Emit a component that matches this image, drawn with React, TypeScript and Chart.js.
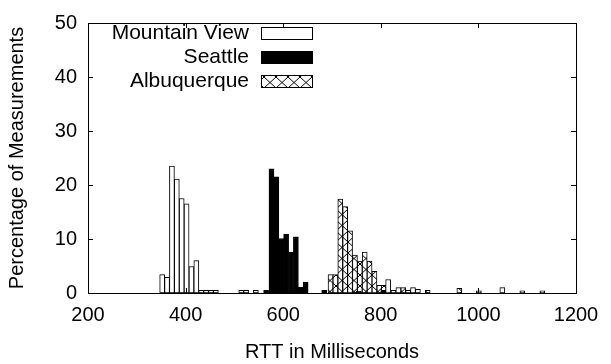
import React, { useEffect, useRef } from "react";
import { Chart, registerables } from "chart.js";

Chart.register(...registerables);

// ---- data (RTT bin centre in ms, percentage of measurements) ----
const mountainViewRtt = [352, 362, 372, 382, 392, 402, 412, 422, 432, 442, 452, 462, 514, 524, 544, 815, 836, 866, 1001, 1049, 1090];
const mountainViewPct = [3.4, 2.9, 23.5, 21.1, 17.5, 16.5, 4.9, 6.0, 0.5, 0.5, 0.5, 0.5, 0.5, 0.5, 0.5, 2.5, 1.0, 1.0, 0.4, 1.0, 0.4];

const seattleRtt = [565, 576, 586, 596, 606, 616, 626, 636, 646, 684, 755, 805];
const seattlePct = [0.5, 23.0, 21.5, 10.1, 10.9, 7.6, 10.4, 1.1, 2.0, 0.5, 0.3, 0.5];

const albuquerqueRtt = [697, 707, 717, 727, 737, 747, 757, 767, 777, 787, 797, 806, 826, 846, 856, 876, 896, 961, 1131];
const albuquerquePct = [3.4, 3.4, 17.4, 16.0, 11.5, 7.0, 5.9, 7.6, 5.9, 4.0, 1.4, 1.4, 0.5, 1.0, 0.5, 0.7, 0.5, 0.85, 0.4];

const seriesLabels = ["Mountain View", "Seattle", "Albuquerque"];
const xTitle = "RTT in Milliseconds";
const yTitle = "Percentage of Measurements";
const xMin = 200, xMax = 1200, xStep = 200;
const yMin = 0, yMax = 50, yStep = 10;

const FONT = "'Liberation Sans', Arial, Helvetica, sans-serif";

function toPoints(xs: number[], ys: number[]) {
  return xs.map((x, i) => ({ x, y: ys[i] }));
}

function makeHatch(): CanvasPattern | string {
  const c = document.createElement("canvas");
  c.width = 12;
  c.height = 11;
  const g = c.getContext("2d");
  if (!g) return "#fff";
  g.fillStyle = "#fff";
  g.fillRect(0, 0, 12, 11);
  g.strokeStyle = "#000";
  g.lineWidth = 1;
  g.beginPath();
  g.moveTo(0, 0);
  g.lineTo(12, 11);
  g.moveTo(0, 11);
  g.lineTo(12, 0);
  g.stroke();
  return g.createPattern(c, "repeat") || "#fff";
}

const framePlugin = {
  id: "gnuframe",
  afterDraw(chart: any) {
    const { ctx, chartArea: a, scales } = chart;
    ctx.save();
    ctx.strokeStyle = "#000";
    ctx.lineWidth = 1;
    ctx.strokeRect(a.left + 0.5, a.top + 0.5, a.right - a.left, a.bottom - a.top);
    const tl = 5;
    ctx.beginPath();
    scales.x.ticks.forEach((t: any) => {
      const px = Math.round(scales.x.getPixelForValue(t.value)) + 0.5;
      ctx.moveTo(px, a.bottom);
      ctx.lineTo(px, a.bottom - tl);
      ctx.moveTo(px, a.top);
      ctx.lineTo(px, a.top + tl);
    });
    scales.y.ticks.forEach((t: any) => {
      const py = Math.round(scales.y.getPixelForValue(t.value)) + 0.5;
      ctx.moveTo(a.left, py);
      ctx.lineTo(a.left + tl, py);
      ctx.moveTo(a.right, py);
      ctx.lineTo(a.right - tl, py);
    });
    ctx.stroke();

    // legend (text right-aligned, sample box to its right)
    const textRight = 249;
    const boxLeft = 261;
    const boxW = 51;
    const boxH = 12;
    const firstCenter = 33;
    const rowH = 24;
    ctx.font = `21px ${FONT}`;
    ctx.textAlign = "right";
    ctx.textBaseline = "alphabetic";
    chart.data.datasets.forEach((ds: any, i: number) => {
      const cy = firstCenter + rowH * i;
      ctx.fillStyle = "#000";
      ctx.fillText(ds.label, textRight, cy + 6);
      const top = Math.round(cy - boxH / 2);
      ctx.fillStyle = ds.backgroundColor;
      ctx.fillRect(boxLeft, top, boxW, boxH);
      ctx.strokeRect(boxLeft + 0.5, top + 0.5, boxW, boxH);
    });
    ctx.restore();
  },
};

export default function App() {
  const ref = useRef<HTMLCanvasElement>(null);

  useEffect(() => {
    const canvas = ref.current;
    if (!canvas) return;
    const hatch = makeHatch();
    const common = {
      borderColor: "#000",
      borderWidth: 1,
      borderSkipped: false,
      barThickness: 5,
      grouped: false,
    };
    const chart = new Chart(canvas, {
      type: "bar",
      data: {
        datasets: [
          { label: seriesLabels[0], data: toPoints(mountainViewRtt, mountainViewPct), backgroundColor: "#fff", ...common },
          { label: seriesLabels[1], data: toPoints(seattleRtt, seattlePct), backgroundColor: "#000", ...common },
          { label: seriesLabels[2], data: toPoints(albuquerqueRtt, albuquerquePct), backgroundColor: hatch, ...common },
        ] as any,
      },
      options: {
        animation: false,
        responsive: false,
        events: [],
        layout: { padding: { top: 15, right: 35, bottom: 0, left: 0 } },
        plugins: { legend: { display: false }, tooltip: { enabled: false } },
        font: { family: FONT },
        scales: {
          x: {
            type: "linear",
            min: xMin,
            max: xMax,
            offset: false,
            grid: { display: false, drawTicks: false, offset: false },
            border: { display: false },
            ticks: {
              stepSize: xStep,
              padding: 10,
              color: "#000",
              font: { family: FONT, size: 20 },
              maxRotation: 0,
              callback: (v: any) => String(v),
            },
            title: { display: true, text: xTitle, color: "#000", font: { family: FONT, size: 20 }, padding: { top: 0, bottom: 0 } },
            afterFit: (s: any) => { s.height = 71; },
          },
          y: {
            type: "linear",
            min: yMin,
            max: yMax,
            grid: { display: false, drawTicks: false },
            border: { display: false },
            ticks: { stepSize: yStep, padding: 11, color: "#000", font: { family: FONT, size: 20 }, callback: (v: any) => String(v) },
            title: { display: true, text: yTitle, color: "#000", font: { family: FONT, size: 20 }, padding: { top: 5, bottom: 0 } },
            afterFit: (s: any) => { s.width = 88; },
          },
        },
      } as any,
      plugins: [framePlugin],
    });
    return () => chart.destroy();
  }, []);

  return (
    <div style={{ position: "fixed", left: 0, top: 0, width: 611, height: 364, background: "#fff" }}>
      <canvas ref={ref} width={611} height={364} style={{ display: "block" }} />
    </div>
  );
}
